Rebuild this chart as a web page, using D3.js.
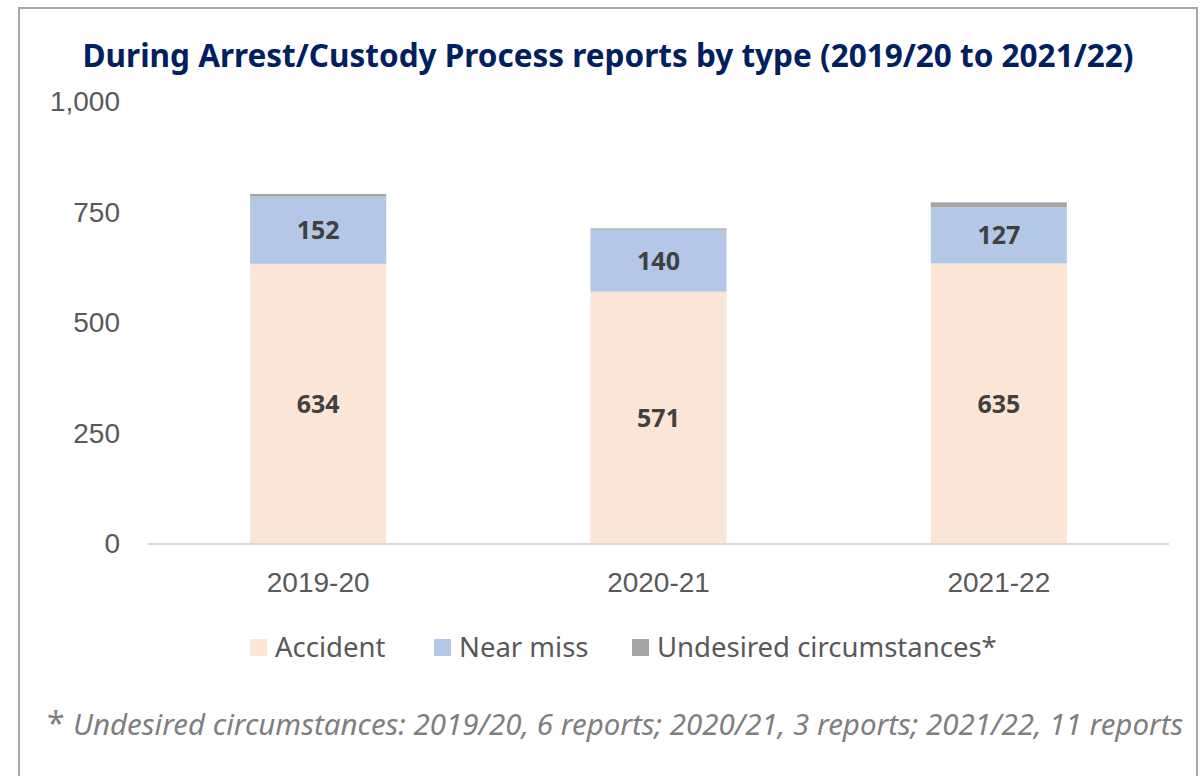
<!DOCTYPE html>
<style>
body { margin: 0; background: #fff; }
svg { font-family: "Noto Sans", sans-serif; }
</style>
<svg width="1201" height="776"></svg>
<script src="https://d3js.org/d3.v7.min.js"></script>
<script>

var years = ["2019-20", "2020-21", "2021-22"],
    accident = [634, 571, 635],
    nearMiss = [152, 140, 127],
    undesired = [6, 3, 11],
    yTicks = [0, 250, 500, 750, 1000];

var seriesNames = ["Accident", "Near miss", "Undesired circumstances*"],
    colors = ["#fbe5d6", "#b4c7e7", "#a5a5a5"];

var svg = d3.select("svg");

var margin = {left: 148, right: 32, top: 102, bottom: 232},
    width = 1201 - margin.left - margin.right,
    height = 776 - margin.top - margin.bottom;

// frame
svg.append("rect")
    .attr("x", 19).attr("y", 8)
    .attr("width", 1178).attr("height", 800)
    .attr("fill", "none")
    .attr("stroke", "#a6a6a6")
    .attr("stroke-width", 2);

var rows = years.map(function(y, i) {
  return {year: y, "Accident": accident[i], "Near miss": nearMiss[i], "Undesired circumstances*": undesired[i]};
});

var stack = d3.stack().keys(seriesNames)(rows);

var x = d3.scaleBand().domain(years).range([margin.left, margin.left + width]).paddingInner(0.6).paddingOuter(0.3);
var y = d3.scaleLinear().domain([0, 1000]).range([margin.top + height, margin.top]);

svg.append("text")
    .attr("x", 608).attr("y", 67)
    .attr("text-anchor", "middle")
    .attr("font-size", 31.5)
    .attr("font-weight", "bold")
    .attr("fill", "#002060")
    .text("During Arrest/Custody Process reports by type (2019/20 to 2021/22)");

// y axis labels
var yAxis = svg.append("g")
    .attr("transform", "translate(" + (margin.left - 28) + ",0)")
    .call(d3.axisLeft(y).tickValues(yTicks).tickSize(0).tickPadding(0).tickFormat(d3.format(",")));
yAxis.select(".domain").remove();
yAxis.selectAll("text")
    .attr("font-size", 28)
    .attr("fill", "#595959")
    .attr("font-family", "inherit");

// bars
svg.append("g").selectAll("g")
  .data(stack)
  .enter().append("g")
    .attr("fill", function(d, i) { return colors[i]; })
  .selectAll("rect")
  .data(function(d) { return d; })
  .enter().append("rect")
    .attr("x", function(d) { return x(d.data.year); })
    .attr("width", x.bandwidth())
    .attr("y", function(d) { return y(d[1]); })
    .attr("height", function(d) { return y(d[0]) - y(d[1]); });

// baseline
svg.append("line")
    .attr("x1", margin.left).attr("x2", margin.left + width)
    .attr("y1", y(0)).attr("y2", y(0))
    .attr("stroke", "#d9d9d9")
    .attr("stroke-width", 2);

// value labels for accident and near miss
stack.slice(0, 2).forEach(function(s) {
  svg.append("g").selectAll("text")
    .data(s)
    .enter().append("text")
      .attr("x", function(d) { return x(d.data.year) + x.bandwidth() / 2; })
      .attr("y", function(d) { return (y(d[0]) + y(d[1])) / 2; })
      .attr("dy", "0.36em")
      .attr("text-anchor", "middle")
      .attr("font-size", 25)
      .attr("font-weight", "bold")
      .attr("fill", "#404040")
      .text(function(d) { return d[1] - d[0]; });
});

// x axis labels
var xAxis = svg.append("g")
    .attr("transform", "translate(0," + (y(0) + 28) + ")")
    .call(d3.axisBottom(x).tickSize(0).tickPadding(0));
xAxis.select(".domain").remove();
xAxis.selectAll("text")
    .attr("dy", "0.71em")
    .attr("font-size", 28)
    .attr("fill", "#595959")
    .attr("font-family", "inherit");

// legend
var legendX = [250, 434, 632];
var legend = svg.append("g").selectAll("g")
  .data(seriesNames)
  .enter().append("g")
    .attr("transform", function(d, i) { return "translate(" + legendX[i] + ",647)"; });
legend.append("rect")
    .attr("y", -8).attr("width", 17).attr("height", 17)
    .attr("fill", function(d, i) { return colors[i]; });
legend.append("text")
    .attr("x", 25)
    .attr("dy", "0.36em")
    .attr("font-size", 27.5)
    .attr("fill", "#595959")
    .text(function(d) { return d; });

// footnote
var note = svg.append("text")
    .attr("x", 47).attr("y", 735)
    .attr("font-size", 29.5)
    .attr("fill", "#7f7f7f");
note.append("tspan").attr("font-size", 32).text("* ");
note.append("tspan").attr("font-style", "italic")
    .text("Undesired circumstances: 2019/20, 6 reports; 2020/21, 3 reports; 2021/22, 11 reports");

</script>
